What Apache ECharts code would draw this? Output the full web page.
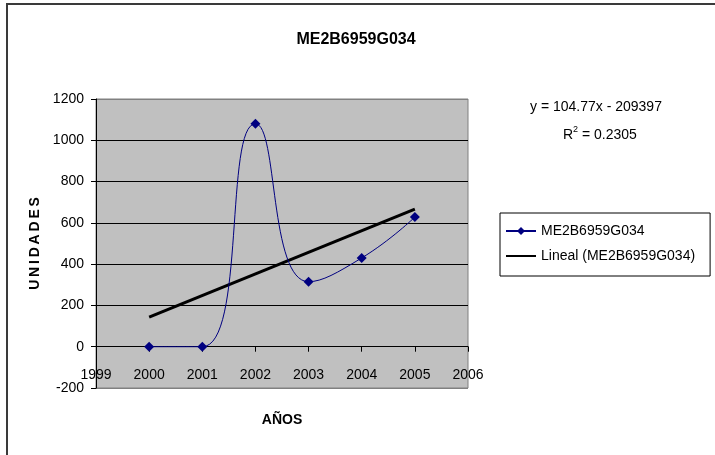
<!DOCTYPE html>
<html>
<head>
<meta charset="utf-8">
<script src="https://cdn.jsdelivr.net/npm/echarts@6/dist/echarts.min.js"></script>
<style>
html,body{margin:0;padding:0;background:#fff;}
#chart{width:715px;height:455px;}
</style>
</head>
<body>
<div id="chart"></div>
<script>
var years = [2000, 2001, 2002, 2003, 2004, 2005];
var units = [0, 0, 1080, 315, 430, 628];
var trendYears = [2000, 2005];
var trendValues = [143, 667];
var seriesName = 'ME2B6959G034';
var trendName = 'Lineal (ME2B6959G034)';
var titleText = 'ME2B6959G034';
var yName = 'UNIDADES';
var xName = 'AÑOS';
var equationText = 'y = 104.77x - 209397';
var r2Text = '0.2305';

var font = '"Liberation Sans", Arial, sans-serif';
var chart = echarts.init(document.getElementById('chart'), null, {renderer: 'canvas'});

function pairs(xs, ys) { return xs.map(function (x, i) { return [x, ys[i]]; }); }

var gridTop = 99, gridHeight = 289, yMin = -200, yMax = 1200;
// move the x axis up from the grid bottom to the value 0
var zeroOffset = -gridHeight * (0 - yMin) / (yMax - yMin);

chart.setOption({
  animation: false,
  backgroundColor: '#fff',
  textStyle: {fontFamily: font},
  title: {
    text: titleText,
    left: 351, top: 27, textAlign: 'center',
    textStyle: {fontFamily: font, fontSize: 16, fontWeight: 'bold', color: '#000'}
  },
  grid: {
    left: 96, top: gridTop, width: 372, height: gridHeight,
    outerBoundsMode: 'none', containLabel: false,
    show: true, backgroundColor: '#C0C0C0', borderColor: '#808080', borderWidth: 1
  },
  legend: {
    orient: 'vertical',
    left: 500, top: 213,
    borderColor: '#000', borderWidth: 1,
    padding: [11, 15, 13, 5],
    itemGap: 11,
    itemWidth: 30, itemHeight: 10,
    textStyle: {fontFamily: font, fontSize: 14, color: '#000'},
    data: [
      {name: seriesName},
      {name: trendName, itemStyle: {opacity: 0}}
    ]
  },
  xAxis: {
    type: 'value', min: 1999, max: 2006, interval: 1,
    offset: zeroOffset,
    name: xName, nameLocation: 'middle', nameGap: 66,
    nameTextStyle: {fontFamily: font, fontSize: 14, fontWeight: 'bold', color: '#000'},
    axisLine: {onZero: false, lineStyle: {color: '#000', width: 1}},
    axisTick: {show: true, length: 5, lineStyle: {color: '#000'}},
    axisLabel: {margin: 21, fontFamily: font, fontSize: 14, color: '#000',
      formatter: function (v) { return String(v); }},
    splitLine: {show: false}
  },
  yAxis: {
    type: 'value', min: yMin, max: yMax, interval: 200,
    name: yName.split('').join('\u2009'), nameLocation: 'middle', nameGap: 43,
    nameRotate: 90,
    nameTextStyle: {fontFamily: font, fontSize: 14, fontWeight: 'bold', color: '#000'},
    axisLine: {show: true, onZero: false, lineStyle: {color: '#000', width: 1}},
    axisTick: {show: true, length: 5, lineStyle: {color: '#000'}},
    axisLabel: {margin: 12, fontFamily: font, fontSize: 14, color: '#000',
      formatter: function (v) { return String(v); }},
    splitLine: {show: true, lineStyle: {color: ['#808080', '#000', '#000', '#000', '#000', '#000', '#000', '#808080'], width: 1}}
  },
  graphic: [
    {type: 'rect', shape: {x: 7, y: 4, width: 720, height: 470},
      style: {fill: 'none', stroke: '#3a3a3a', lineWidth: 2}, silent: true, z: 100},
    {type: 'text', left: 530, top: 100,
      style: {text: equationText, fontFamily: font, fontSize: 14, fill: '#000'}},
    {type: 'text', left: 563, top: 125,
      style: {text: '{n|R}{s|2}{n| = ' + r2Text + '}',
        rich: {n: {fontFamily: font, fontSize: 14, fill: '#000', verticalAlign: 'bottom'},
               s: {fontFamily: font, fontSize: 9, fill: '#000', verticalAlign: 'top', padding: [0, 0, 8, 0]}}}}
  ],
  series: [
    {
      name: seriesName, type: 'line',
      data: pairs(years, units),
      smooth: 0.5,
      smoothMonotone: 'none',
      symbol: 'diamond', symbolSize: 10,
      itemStyle: {color: '#000080'},
      lineStyle: {color: '#000080', width: 1},
      z: 3
    },
    {
      name: trendName, type: 'line',
      data: pairs(trendYears, trendValues),
      symbol: 'none', showSymbol: false,
      itemStyle: {color: '#000'},
      lineStyle: {color: '#000', width: 3},
      z: 2
    }
  ]
});
</script>
</body>
</html>
